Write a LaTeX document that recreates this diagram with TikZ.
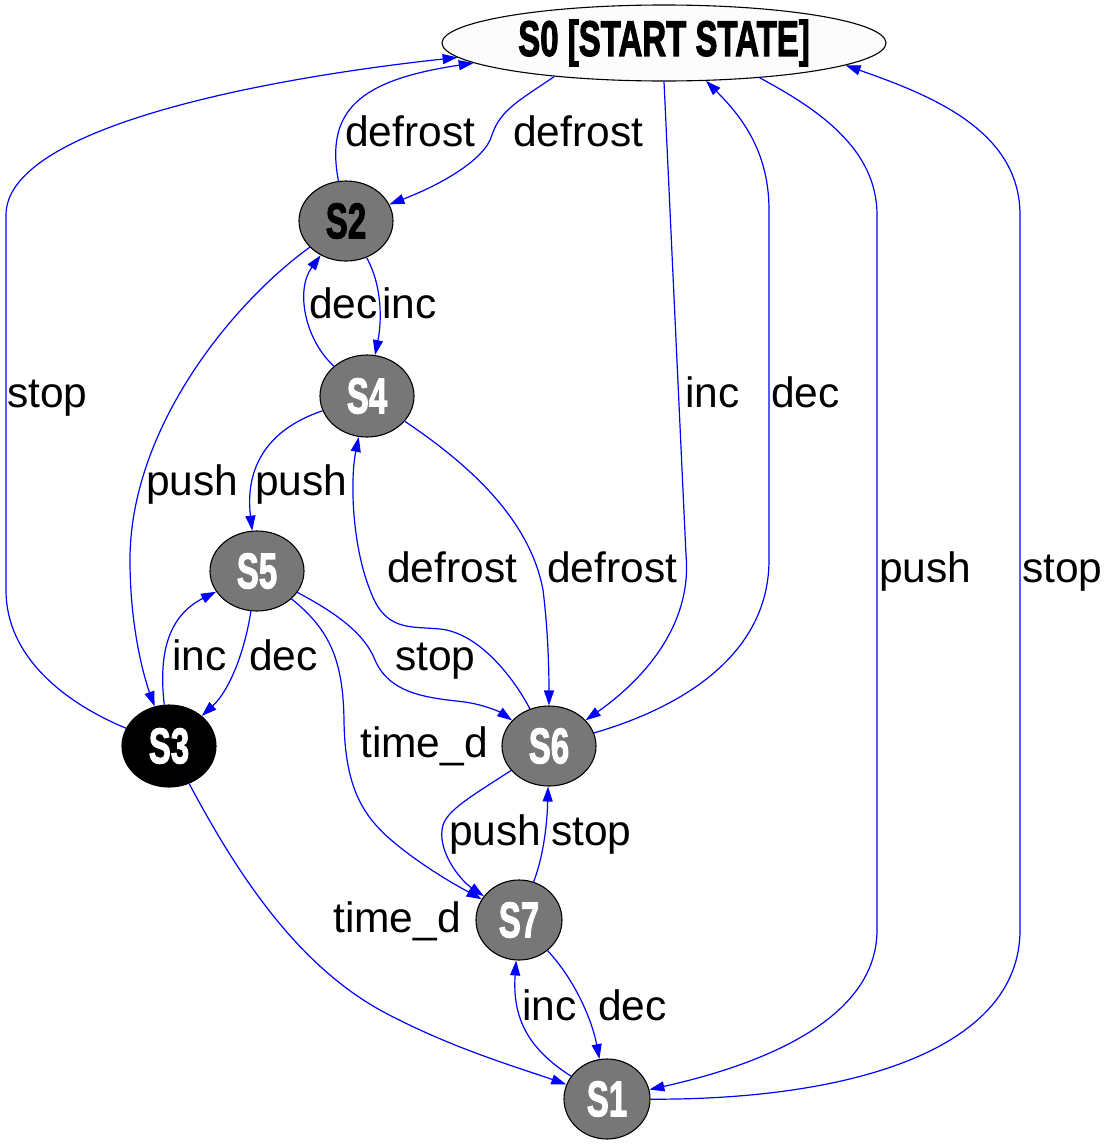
\documentclass[tikz,border=0pt]{standalone}
\usepackage{graphicx}
\usepackage{fontspec}
\setmainfont{Liberation Sans}
\newfontfamily\nodefont{Liberation Sans}[BoldFeatures={FakeBold=2.5}]
\usetikzlibrary{shapes.geometric,arrows.meta}
\definecolor{nodegray}{HTML}{777777}
\definecolor{startfill}{HTML}{FCFCFC}
\definecolor{edgeblue}{HTML}{0000FF}
\newcommand\statetxt[1]{\scalebox{0.66}[1]{#1}}
\begin{document}
\begin{tikzpicture}[x=1pt,y=-1pt,
  state/.style={ellipse,draw=black,line width=1.1pt,fill=nodegray,inner sep=0pt,
    minimum width=94pt,minimum height=80pt,text=white,
    font=\nodefont\bfseries\fontsize{50}{50}\selectfont},
  edge/.style={draw=edgeblue,line width=1.2pt,-{Triangle[length=15pt,width=10pt]}},
  lbl/.style={anchor=base west,inner sep=0pt,font=\fontsize{42.5}{44}\selectfont}]
\fill[white] (0,0) rectangle (1108,1146);
\useasboundingbox (0,0) rectangle (1108,1146);

% nodes
\node[state,fill=startfill,text=black,minimum width=444pt,minimum height=76pt] (S0) at (664,43) {\statetxt{S0 [START STATE]}};
\node[state,text=black] (S2) at (346,221) {\statetxt{S2}};
\node[state,minimum height=82pt] (S4) at (367,396) {\statetxt{S4}};
\node[state] (S5) at (257,571) {\statetxt{S5}};
\node[state,fill=black,minimum width=94pt,minimum height=82pt] (S3) at (169,746) {\statetxt{S3}};
\node[state] (S6) at (549,746) {\statetxt{S6}};
\node[state,minimum width=86pt] (S7) at (519,920) {\statetxt{S7}};
\node[state,minimum width=86pt] (S1) at (607,1099) {\statetxt{S1}};

% edges
\draw[edge] (S3) .. controls (70,705) and (6,660) .. (6,590) -- (6,215) .. controls (6,130) and (250,80) .. (S0.184);
\draw[edge] (S2) .. controls (325,110) and (360,80) .. (S0.186);
\draw[edge] (S0.197) .. controls (520,100) and (500,110) .. (492,135) .. controls (485,160) and (440,185) .. (S2);
\draw[edge] (S0.270) -- (686,555) .. controls (692,620) and (650,675) .. (S6);
\draw[edge] (S6) .. controls (690,705) and (769,650) .. (769,560) -- (769,210) .. controls (769,150) and (740,115) .. (S0.318);
\draw[edge] (S0.340) .. controls (820,110) and (877,150) .. (877,215) -- (877,930) .. controls (877,1020) and (760,1065) .. (S1);
\draw[edge] (S1) .. controls (850,1100) and (1020,1050) .. (1020,930) -- (1020,215) .. controls (1020,130) and (930,95) .. (S0.353);
\draw[edge] (S2) .. controls (382,285) and (382,320) .. (S4);
\draw[edge] (S4) .. controls (305,340) and (295,290) .. (S2);
\draw[edge] (S2) .. controls (230,305) and (130,430) .. (130,560) .. controls (130,630) and (145,680) .. (S3);
\draw[edge] (S4) .. controls (265,430) and (245,470) .. (S5);
\draw[edge] (S4) .. controls (470,465) and (530,520) .. (543,590) .. controls (548,630) and (549,670) .. (S6);
\draw[edge] (S6) .. controls (515,680) and (480,633) .. (440,629) .. controls (410,626) and (385,632) .. (370,590) .. controls (352,545) and (350,480) .. (S4);
\draw[edge] (S3) .. controls (158,650) and (170,615) .. (S5);
\draw[edge] (S5) .. controls (245,650) and (230,690) .. (S3);
\draw[edge] (S5) .. controls (340,615) and (365,635) .. (375,660) .. controls (390,695) and (430,698) .. (465,702) .. controls (485,705) and (500,712) .. (S6);
\draw[edge] (S5) .. controls (330,630) and (343,660) .. (344,720) .. controls (345,800) and (370,825) .. (410,855) .. controls (440,877) and (465,890) .. (S7);
\draw[edge] (S6) .. controls (470,797) and (448,810) .. (443,825) .. controls (436,850) and (460,880) .. (S7);
\draw[edge] (S7) .. controls (542,860) and (547,830) .. (S6);
\draw[edge] (S3) .. controls (230,860) and (290,960) .. (380,1010) .. controls (450,1048) and (520,1068) .. (S1);
\draw[edge] (S7) .. controls (575,980) and (592,1020) .. (S1);
\draw[edge] (S1) .. controls (530,1050) and (512,1020) .. (S7);

% labels
\node[lbl] (l1) at (7,407) {stop};
\node[lbl] (l2) at (345,146) {defrost};
\node[lbl] (l3) at (513,146) {defrost};
\node[lbl] (l4) at (685,407) {inc};
\node[lbl] (l5) at (771,407) {dec};
\node[lbl] (l6) at (879,582) {push};
\node[lbl] (l7) at (1022,582) {stop};
\node[lbl] (l8) at (382,318) {inc};
\node[lbl] (l9) at (309,318) {dec};
\node[lbl] (l10) at (146,495) {push};
\node[lbl] (l11) at (255,495) {push};
\node[lbl] (l12) at (547,582) {defrost};
\node[lbl] (l13) at (387,582) {defrost};
\node[lbl] (l14) at (172,670) {inc};
\node[lbl] (l15) at (249,670) {dec};
\node[lbl] (l16) at (395,670) {stop};
\node[lbl] (l17) at (360,757) {time\_d};
\node[lbl] (l18) at (449,845) {push};
\node[lbl] (l19) at (551,845) {stop};
\node[lbl] (l20) at (333,932) {time\_d};
\node[lbl] (l21) at (598,1020) {dec};
\node[lbl] (l22) at (522,1020) {inc};
\end{tikzpicture}
\end{document}
